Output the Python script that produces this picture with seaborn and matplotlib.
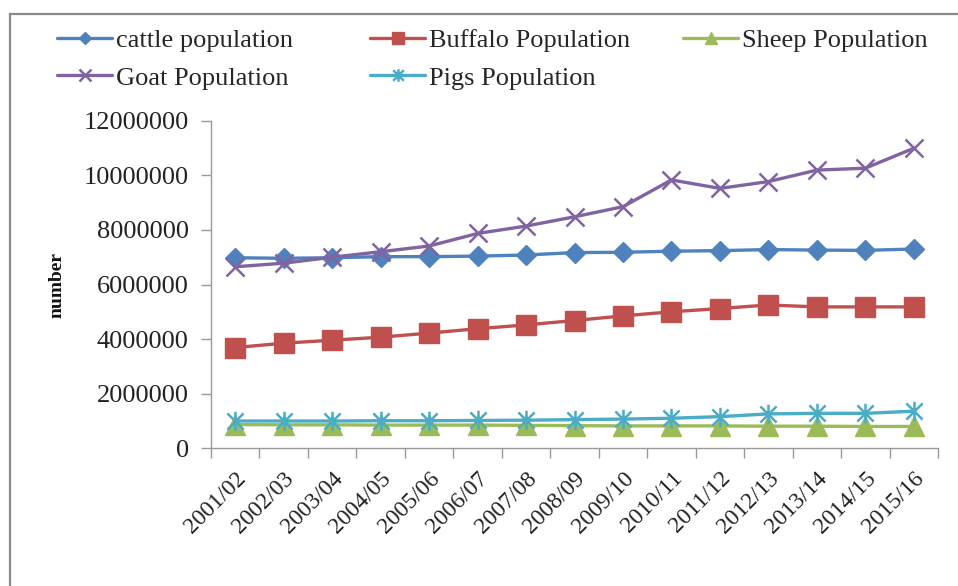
import numpy as np
import pandas as pd
import matplotlib
matplotlib.use("Agg")
import matplotlib.pyplot as plt
from matplotlib.path import Path
from matplotlib.patches import Rectangle
from matplotlib.ticker import FixedLocator, NullFormatter
from matplotlib.transforms import ScaledTranslation
import seaborn as sns

# Livestock population by fiscal year
years = ["2001/02", "2002/03", "2003/04", "2004/05", "2005/06", "2006/07", "2007/08",
         "2008/09", "2009/10", "2010/11", "2011/12", "2012/13", "2013/14", "2014/15", "2015/16"]
cattle = [6980000, 6960000, 6980000, 7020000, 7020000, 7040000, 7080000, 7170000,
          7180000, 7220000, 7240000, 7280000, 7260000, 7250000, 7300000]
buffalo = [3690000, 3850000, 3960000, 4070000, 4220000, 4380000, 4520000, 4680000,
           4850000, 5000000, 5120000, 5250000, 5180000, 5180000, 5180000]
sheep = [870000, 860000, 860000, 850000, 850000, 850000, 840000, 830000,
         820000, 820000, 820000, 810000, 810000, 800000, 800000]
goat = [6650000, 6780000, 7000000, 7200000, 7410000, 7870000, 8140000, 8480000,
        8850000, 9830000, 9520000, 9770000, 10190000, 10260000, 10990000]
pigs = [1000000, 1000000, 1000000, 1010000, 1010000, 1020000, 1030000, 1050000,
        1070000, 1100000, 1160000, 1260000, 1280000, 1280000, 1360000]
y_ticks = [0, 2000000, 4000000, 6000000, 8000000, 10000000, 12000000]

W, H = 958, 586
sns.set_theme(style="white")
plt.rcParams["font.family"] = ["Liberation Serif", "DejaVu Serif"]

fig = plt.figure(figsize=(W / 100, H / 100), dpi=100)
fig.patch.set_facecolor("white")

def px_box(l, t, r, b):
    return [l / W, 1 - b / H, (r - l) / W, (b - t) / H]

ax = fig.add_axes(px_box(211, 120.7, 938, 448.3))
ax.set_facecolor("white")

# asterisk-like star: an X crossed by a vertical stroke
star = Path([(-1, -1), (1, 1), (-1, 1), (1, -1), (0, -1.2), (0, 1.2)],
            [Path.MOVETO, Path.LINETO, Path.MOVETO, Path.LINETO, Path.MOVETO, Path.LINETO])

pos = np.arange(len(years))
series = [
    ("cattle population", cattle, "#4F81BD", dict(marker="D", markersize=10, markeredgewidth=1)),
    ("Buffalo Population", buffalo, "#C0504D", dict(marker="s", markersize=14, markeredgewidth=1)),
    ("Sheep Population", sheep, "#9BBB59", dict(marker="^", markersize=14, markeredgewidth=1)),
    ("Goat Population", goat, "#8064A2", dict(marker="x", markersize=13, markeredgewidth=1.8)),
    ("Pigs Population", pigs, "#4BACC6", dict(marker=star, markersize=14, markeredgewidth=1.8)),
]
handles = {}
for name, vals, col, mk in series:
    df = pd.DataFrame({"pos": pos, "value": vals})
    sns.lineplot(data=df, x="pos", y="value", ax=ax, color=col, linewidth=2.4,
                 markeredgecolor=col, markerfacecolor=col, sort=False, label=name, **mk)
    handles[name] = ax.get_lines()[-1]
if ax.get_legend() is not None:
    ax.get_legend().remove()

ax.set_xlim(-0.5, len(years) - 0.5)
ax.set_ylim(0, 12000000)
ax.set_yticks(y_ticks)
ax.set_yticklabels([str(v) for v in y_ticks], fontsize=19)
ax.set_xticks(pos)
ax.set_xticklabels(years, fontsize=17, rotation=45, ha="right", rotation_mode="anchor")
shift = ScaledTranslation(-8 / 100, 0, fig.dpi_scale_trans)
for lab in ax.get_xticklabels():
    lab.set_transform(lab.get_transform() + shift)
ax.xaxis.set_minor_locator(FixedLocator(np.arange(-0.5, len(years), 1.0)))
ax.xaxis.set_minor_formatter(NullFormatter())
ax.tick_params(axis="x", which="major", length=0, pad=14, colors="#222222")
ax.tick_params(axis="x", which="minor", length=7, width=1, color="#999999", bottom=True)
ax.tick_params(axis="y", which="major", length=7, width=1, color="#999999", left=True,
               pad=9, labelcolor="#222222")
for s in ["top", "right"]:
    ax.spines[s].set_visible(False)
for s in ["left", "bottom"]:
    ax.spines[s].set_color("#999999")
    ax.spines[s].set_linewidth(1)
ax.set_xlabel("")
ax.set_ylabel("number", fontsize=14, fontweight="bold", color="#111111", labelpad=0)
ax.yaxis.set_label_coords((66 - 211) / (938 - 211), (449 - 285) / (449 - 120.7))
ax.grid(False)

# legend laid out in three columns
cols = [(57, ["cattle population", "Goat Population"]),
        (370, ["Buffalo Population", "Pigs Population"]),
        (683, ["Sheep Population"])]
for x0, names in cols:
    fig.legend([handles[n] for n in names], names, loc="upper left",
               bbox_to_anchor=(x0 / W, 1 - 29 / H), frameon=False, fontsize=19,
               handlelength=2.1, handletextpad=0.15, labelspacing=0.52,
               borderpad=0, borderaxespad=0, markerscale=0.65)

# outer frame, only its top and left edges fall inside the image
fig.patches.append(Rectangle((10 / W, -0.1), 1.2, 1 - 14 / H + 0.1, transform=fig.transFigure,
                             fill=False, edgecolor="#8a8a8a", linewidth=1.6, zorder=0))

fig.savefig("out.png", dpi=100, facecolor="white")
